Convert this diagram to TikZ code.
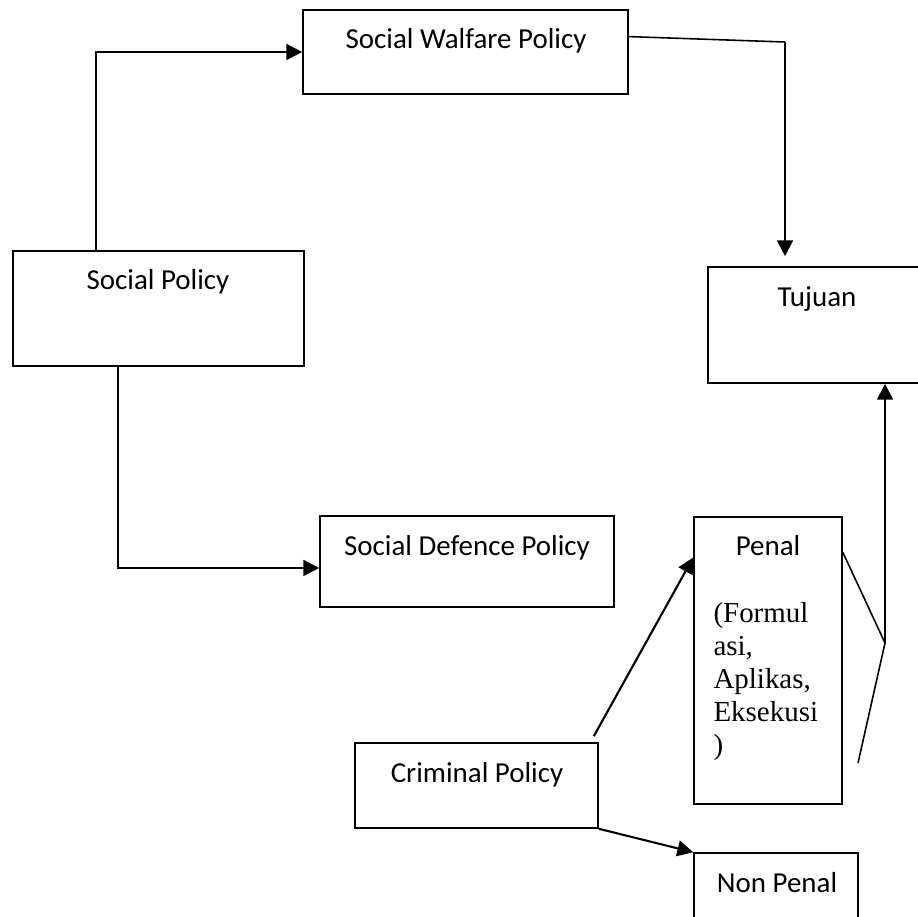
\documentclass[tikz,border=0pt]{standalone}
\usepackage{fontspec}
\setmainfont{Carlito}
\newfontfamily\timesfont{Liberation Serif}
\usetikzlibrary{
  arrows.meta,
  positioning,
  fit,
  calc
}
\tikzset{
  box/.style    = {draw, line width=0.6pt, inner sep=0pt},
  lbl/.style    = {font=\fontsize{11}{13}\selectfont, anchor=base, inner sep=0pt},
  serif/.style  = {font=\timesfont\fontsize{11}{12.6}\selectfont,
                   anchor=base west, inner sep=0pt},
  arrow/.style  = {-{Triangle[length=6pt, width=6pt]}, line width=0.8pt},
  plain/.style  = {line width=0.6pt},
}
\begin{document}
\begin{tikzpicture}[x=0.38pt, y=-0.38pt]
\useasboundingbox (0,0) rectangle (917,917);

% boxes
\node[box, fit={(303,10) (628,94)}]   (swp) {};
\node[box, fit={(13,251) (304,366)}]  (sp)  {};
\node[box, fit={(708,267) (926,383)}] (tuj) {};
\node[box, fit={(320,516) (614,607)}] (sdp) {};
\node[box, fit={(694,517) (842,804)}] (pen) {};
\node[box, fit={(355,743) (598,828)}] (cp)  {};
\node[box, fit={(694,853) (858,935)}] (np)  {};

% texts
\node[lbl] (swpt) at (466,49)  {Social Walfare Policy};
\node[lbl] (spt)  at (158,290) {Social Policy};
\node[lbl] (tujt) at (817,307) {Tujuan};
\node[lbl] (sdpt) at (467,555) {Social Defence Policy};
\node[lbl] (pent) at (768,555) {Penal};
\node[lbl] (cpt)  at (477,782) {Criminal Policy};
\node[lbl] (npt)  at (777,892) {Non Penal};
\foreach \t [count=\i from 0] in {{(Formul}, {asi,}, {Aplikas,}, {Eksekusi}, {)}}
  \node[serif] (penl\i) at (713,622+33*\i) {\t};

% connectors
\draw[arrow] ($(sp.north west)!0.285!(sp.north east)$) |- (swp.west);
\draw[arrow] ($(sp.south west)!0.361!(sp.south east)$)
  |- ($(sdp.north west)!0.57!(sdp.south west)$);

\coordinate (bend) at (785,42);
\coordinate (tujtop) at ([yshift=3.8pt]tuj.north);
\draw[plain] ($(swp.north east)!0.32!(swp.south east)$) -- (bend);
\draw[arrow] (bend) -- (bend |- tujtop);

\draw[arrow] ([shift={(-5,-6)}]cp.north east)
  -- ($(pen.north west)!0.143!(pen.south west)$);
\draw[arrow] (cp.south east) -- (np.north west);

% bracket from Penal up to Tujuan
\coordinate (join) at (885,643);
\coordinate (low)  at (858,763);
\draw[plain] ($(pen.north east)!0.125!(pen.south east)$) -- (join) -- (low);
\draw[arrow] (join) -- (join |- tuj.south);
\end{tikzpicture}
\end{document}
